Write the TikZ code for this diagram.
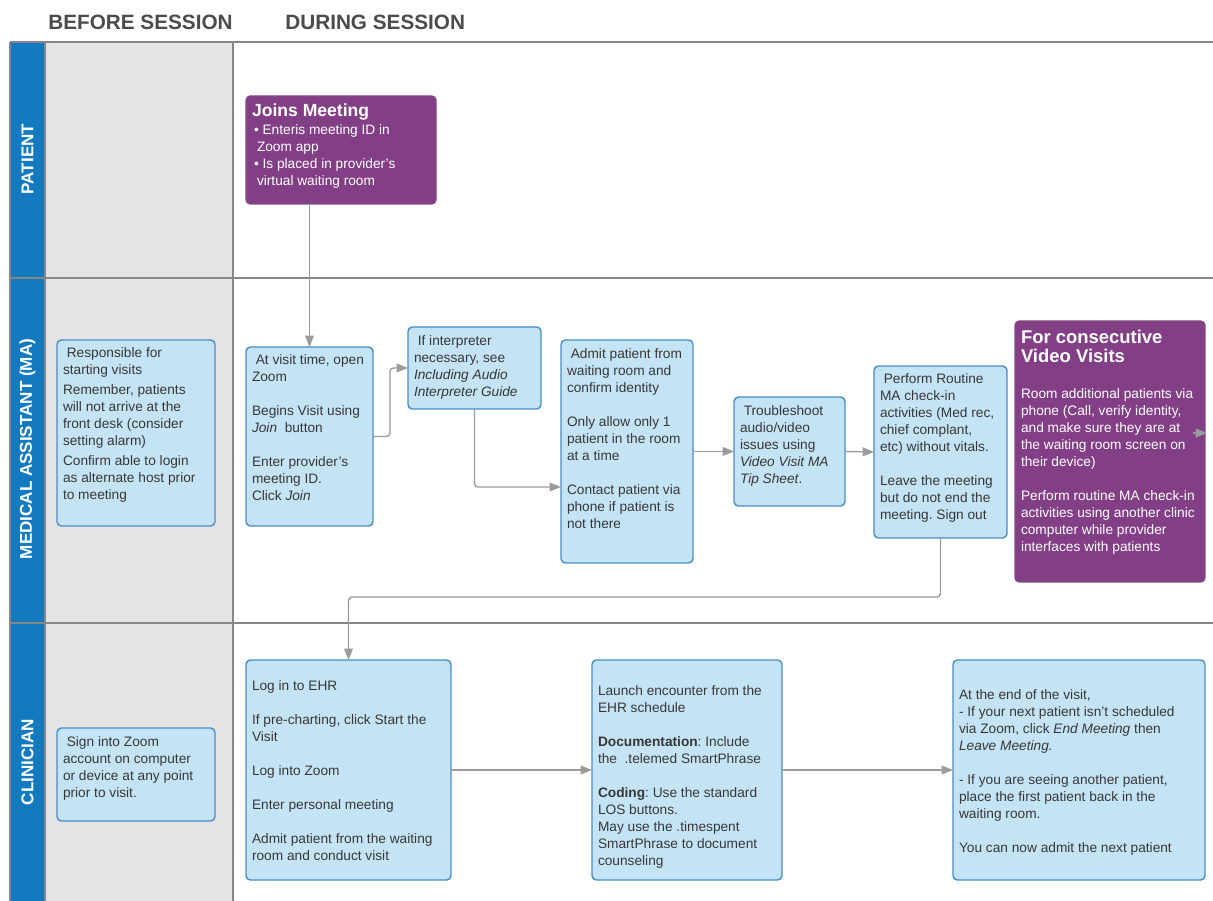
\documentclass[tikz,border=0pt]{standalone}
\usepackage{fontspec}
\setmainfont{Liberation Sans}
\usetikzlibrary{arrows.meta}
\frenchspacing

\definecolor{lanebar}{RGB}{20,122,191}
\definecolor{laneback}{RGB}{228,228,228}
\definecolor{lanerule}{RGB}{135,135,135}
\definecolor{cardfill}{RGB}{196,228,246}
\definecolor{cardline}{RGB}{72,140,198}
\definecolor{cardpurple}{RGB}{131,63,134}
\definecolor{flowgray}{RGB}{155,155,155}
\definecolor{inktext}{RGB}{55,55,55}

\newdimen\pxu \pxu=0.02cm
\newcommand{\cardbody}[4]{\parbox[c][#2\pxu][t]{\dimexpr#1\pxu-12\pxu\relax}{\vspace*{#3\pxu}\begin{tabular}{@{}l@{}}#4\end{tabular}}}
\newcommand{\cardtitle}[2][10]{{\fontsize{#1}{12}\selectfont\bfseries #2}}
\newcommand{\cardgap}{\\[17\pxu]}

\tikzset{
  card/.style={draw=cardline, fill=cardfill, line width=0.8pt, rounded corners=2.5pt,
    inner xsep=6\pxu, inner ysep=0pt, outer sep=0pt, anchor=north west,
    text=inktext, font={\fontsize{7.8}{9.64}\selectfont}},
  purplecard/.style={card, draw=cardpurple!85!gray, fill=cardpurple, text=white},
  flow/.style={draw=flowgray, line width=0.8pt, rounded corners=2pt,
    -{Triangle[length=6.5pt,width=5pt]}},
  laneline/.style={draw=lanerule, line width=0.9pt},
  lanelabel/.style={rotate=90, text=white, font={\fontsize{9.7}{11}\selectfont\bfseries}},
  phase/.style={anchor=west, inner sep=0pt, text=inktext!90!white, font={\fontsize{11.8}{13}\selectfont\bfseries}}
}

\begin{document}
\begin{tikzpicture}[x=0.02cm, y=-0.02cm]
\useasboundingbox (0,0) rectangle (1213,901);

\fill[lanebar] (10,42) rectangle (45,901);
\fill[laneback] (45,42) rectangle (233,901);
\foreach \y in {42,278,623}{
  \draw[laneline] (10,\y) -- (1213,\y);
}
\foreach \x in {10,45,233}{
  \draw[laneline] (\x,42) -- (\x,901);
}

\node[phase] (before) at (48,22) {BEFORE SESSION};
\node[phase] (during) at (285,22) {DURING SESSION};

\node[lanelabel] (patient) at (27.5,159) {PATIENT};
\node[lanelabel] (ma) at (27.5,449) {MEDICAL ASSISTANT (MA)};
\node[lanelabel] (clinician) at (27.5,762) {CLINICIAN};

% patient lane
\node[purplecard] (joins) at (246,96) {\cardbody{190}{108}{8}{
  \cardtitle{Joins Meeting}\\[1\pxu]
  \hspace{2\pxu}\textbullet\ Enteris meeting ID in\\
  \hspace{5\pxu}Zoom app\\
  \hspace{2\pxu}\textbullet\ Is placed in provider's\\
  \hspace{5\pxu}virtual waiting room}};

% medical assistant lane
\node[card] (mabefore) at (57,340) {\cardbody{158}{186}{6}{
  \ Responsible for\\
  starting visits\\[3\pxu]
  Remember, patients\\
  will not arrive at the\\
  front desk (consider\\
  setting alarm)\\[3\pxu]
  Confirm able to login\\
  as alternate host prior\\
  to meeting}};

\node[card] (visit) at (246,347) {\cardbody{127}{179}{6}{
  \ At visit time, open\\
  Zoom\cardgap
  Begins Visit using\\
  \textit{Join}~ button\cardgap
  Enter provider's\\
  meeting ID.\\
  Click \textit{Join}}};

\node[card] (interp) at (408,327) {\cardbody{133}{82}{7}{
  \ If interpreter\\
  necessary, see\\
  \textit{Including Audio}\\
  \textit{Interpreter Guide}}};

\node[card] (admit) at (561,340) {\cardbody{132}{223}{7}{
  \ Admit patient from\\
  waiting room and\\
  confirm identity\cardgap
  Only allow only 1\\
  patient in the room\\
  at a time\cardgap
  Contact patient via\\
  phone if patient is\\
  not there}};

\node[card] (trouble) at (734,397) {\cardbody{111}{109}{7}{
  \ Troubleshoot\\
  audio/video\\
  issues using\\
  \textit{Video Visit MA}\\
  \textit{Tip Sheet}.}};

\node[card] (routine) at (874,366) {\cardbody{133}{172}{6}{
  \ Perform Routine\\
  MA check-in\\
  activities (Med rec,\\
  chief complant,\\
  etc) without vitals.\cardgap
  Leave the meeting\\
  but do not end the\\
  meeting. Sign out}};

\node[purplecard] (consec) at (1015,321) {\cardbody{190}{261}{9}{
  \cardtitle[10.5]{For consecutive}\\[1\pxu]
  \cardtitle[10.5]{Video Visits}\\[19\pxu]
  Room additional patients via\\
  phone (Call, verify identity,\\
  and make sure they are at\\
  the waiting room screen on\\
  their device)\cardgap
  Perform routine MA check-in\\
  activities using another clinic\\
  computer while provider\\
  interfaces with patients}};

% clinician lane
\node[card] (clinbefore) at (57,728) {\cardbody{158}{93}{7}{
  \ Sign into Zoom\\
  account on computer\\
  or device at any point\\
  prior to visit.}};

\node[card] (ehr) at (246,660) {\cardbody{205}{220}{19}{
  Log in to EHR\cardgap
  If pre-charting, click Start the\\
  Visit\cardgap
  Log into Zoom\cardgap
  Enter personal meeting\cardgap
  Admit patient from the waiting\\
  room and conduct visit}};

\node[card] (launch) at (592,660) {\cardbody{190}{220}{24}{
  Launch encounter from the\\
  EHR schedule\cardgap
  \textbf{Documentation}: Include\\
  the~ .telemed SmartPhrase\cardgap
  \textbf{Coding}: Use the standard\\
  LOS buttons.\\
  May use the .timespent\\
  SmartPhrase to document\\
  counseling}};

\node[card] (wrapup) at (953,660) {\cardbody{252}{220}{28}{
  At the end of the visit,\\
  - If your next patient isn't scheduled\\
  via Zoom, click \textit{End Meeting} then\\
  \textit{Leave Meeting.}\cardgap
  - If you are seeing another patient,\\
  place the first patient back in the\\
  waiting room.\cardgap
  You can now admit the next patient}};

\coordinate (nextlane) at (1207,433);

\draw[flow] (joins.south -| visit.north) -- (visit.north);
\draw[flow] (visit.east) -- ++(17,0) |- (interp.west);
\draw[flow] (interp.south) |- (admit.west |- 0,487);
\draw[flow] (admit.east) -- (trouble.west);
\draw[flow] (trouble.east) -- (routine.west);
\draw[flow] (routine.south) -- (routine.south |- 0,597) -| (ehr.north);
\draw[flow] (ehr.east) -- (launch.west);
\draw[flow] (launch.east) -- (wrapup.west);
\draw[flow] ([xshift=-8pt]nextlane) -- (nextlane);
\end{tikzpicture}
\end{document}
